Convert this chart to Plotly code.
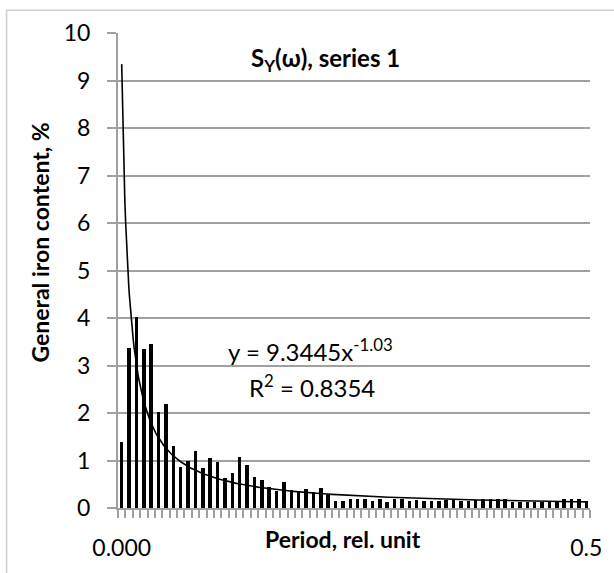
import plotly.graph_objects as go
import numpy as np

# ---- data ----
bar_index = list(range(1, 65))
bar_values = [
    1.38, 3.37, 4.02, 3.34, 3.46, 2.03, 2.19, 1.30, 0.86, 0.98,
    1.20, 0.85, 1.06, 0.97, 0.64, 0.73, 1.08, 0.91, 0.65, 0.60,
    0.45, 0.36, 0.55, 0.38, 0.33, 0.41, 0.34, 0.42, 0.28, 0.15,
    0.15, 0.18, 0.18, 0.20, 0.14, 0.20, 0.12, 0.20, 0.20, 0.14,
    0.17, 0.14, 0.15, 0.15, 0.17, 0.17, 0.15, 0.15, 0.17, 0.19,
    0.19, 0.19, 0.19, 0.12, 0.12, 0.12, 0.12, 0.12, 0.12, 0.13,
    0.19, 0.19, 0.19, 0.15,
]
x_tick_positions = [1, 64]
x_tick_labels = ["0.000", "0.5"]
y_ticks = list(range(0, 11))

# power trendline coefficients shown on the chart
TREND_A = 9.3445
TREND_B = -1.03
trend_x = np.linspace(1, 64, 600)
trend_y = TREND_A * trend_x ** TREND_B

GRID = "#A0A0A0"
FONT = "Lato"

fig = go.Figure()
fig.add_trace(go.Bar(x=bar_index, y=bar_values, width=0.47,
                     marker=dict(color="black", line=dict(width=0)),
                     showlegend=False, hoverinfo="skip"))
fig.add_trace(go.Scatter(x=trend_x, y=trend_y, mode="lines",
                         line=dict(color="black", width=1.6),
                         showlegend=False, hoverinfo="skip"))

boundaries = [i + 0.5 for i in range(0, 65)]

fig.update_layout(
    width=614, height=573,
    margin=dict(l=117.5, r=24, t=33, b=63),
    paper_bgcolor="white", plot_bgcolor="white",
    font=dict(family=FONT, color="black"),
    bargap=0,
    xaxis=dict(
        range=[0.5, 64.5], tickmode="array",
        tickvals=x_tick_positions, ticktext=x_tick_labels,
        ticks="", showgrid=False, zeroline=False,
        showline=True, linecolor=GRID, linewidth=2,
        tickfont=dict(size=23, family=FONT, color="black"),
        ticklabelstandoff=18,
        minor=dict(tickmode="array", tickvals=boundaries, ticks="outside",
                   ticklen=8, tickcolor=GRID, tickwidth=1.5, showgrid=False),
    ),
    yaxis=dict(
        range=[0, 10], tickmode="array", tickvals=y_ticks,
        ticks="outside", ticklen=9, tickcolor=GRID, tickwidth=2,
        showgrid=True, gridcolor=GRID, gridwidth=2,
        zeroline=False, showline=True, linecolor=GRID, linewidth=2,
        tickfont=dict(size=23, family=FONT, color="black"),
        ticklabelstandoff=12,
    ),
    annotations=[
        dict(text="<b>S<sub>Y</sub>(ω), series 1</b>", xref="paper", yref="paper",
             x=0.44, y=0.945, showarrow=False, xanchor="center", yanchor="middle",
             font=dict(size=24, family=FONT, color="black")),
        dict(text="y = 9.3445x<sup>-1.03</sup>", xref="paper", yref="paper",
             x=0.408, y=0.332, showarrow=False, xanchor="center", yanchor="middle",
             font=dict(size=24, family=FONT, color="black")),
        dict(text="R<sup>2</sup> = 0.8354", xref="paper", yref="paper",
             x=0.41, y=0.256, showarrow=False, xanchor="center", yanchor="middle",
             font=dict(size=24, family=FONT, color="black")),
        dict(text="<b>Period, rel. unit</b>", xref="paper", yref="paper",
             x=0.477, y=-0.065, showarrow=False, xanchor="center", yanchor="middle",
             font=dict(size=23, family=FONT, color="black")),
        dict(text="<b>General iron content, %</b>", xref="paper", yref="paper",
             x=-0.166, y=0.558, showarrow=False, xanchor="center", yanchor="middle",
             textangle=-90, font=dict(size=23, family=FONT, color="black")),
    ],
    shapes=[
        dict(type="rect", xref="paper", yref="paper",
             x0=-0.236, x1=1.3, y0=-0.3, y1=1.048,
             line=dict(color="#CFCFCF", width=1.5), fillcolor="rgba(0,0,0,0)",
             layer="below"),
    ],
)

fig.write_html("out.html", config={"displayModeBar": False},
               post_script="document.body.style.margin='0';")
